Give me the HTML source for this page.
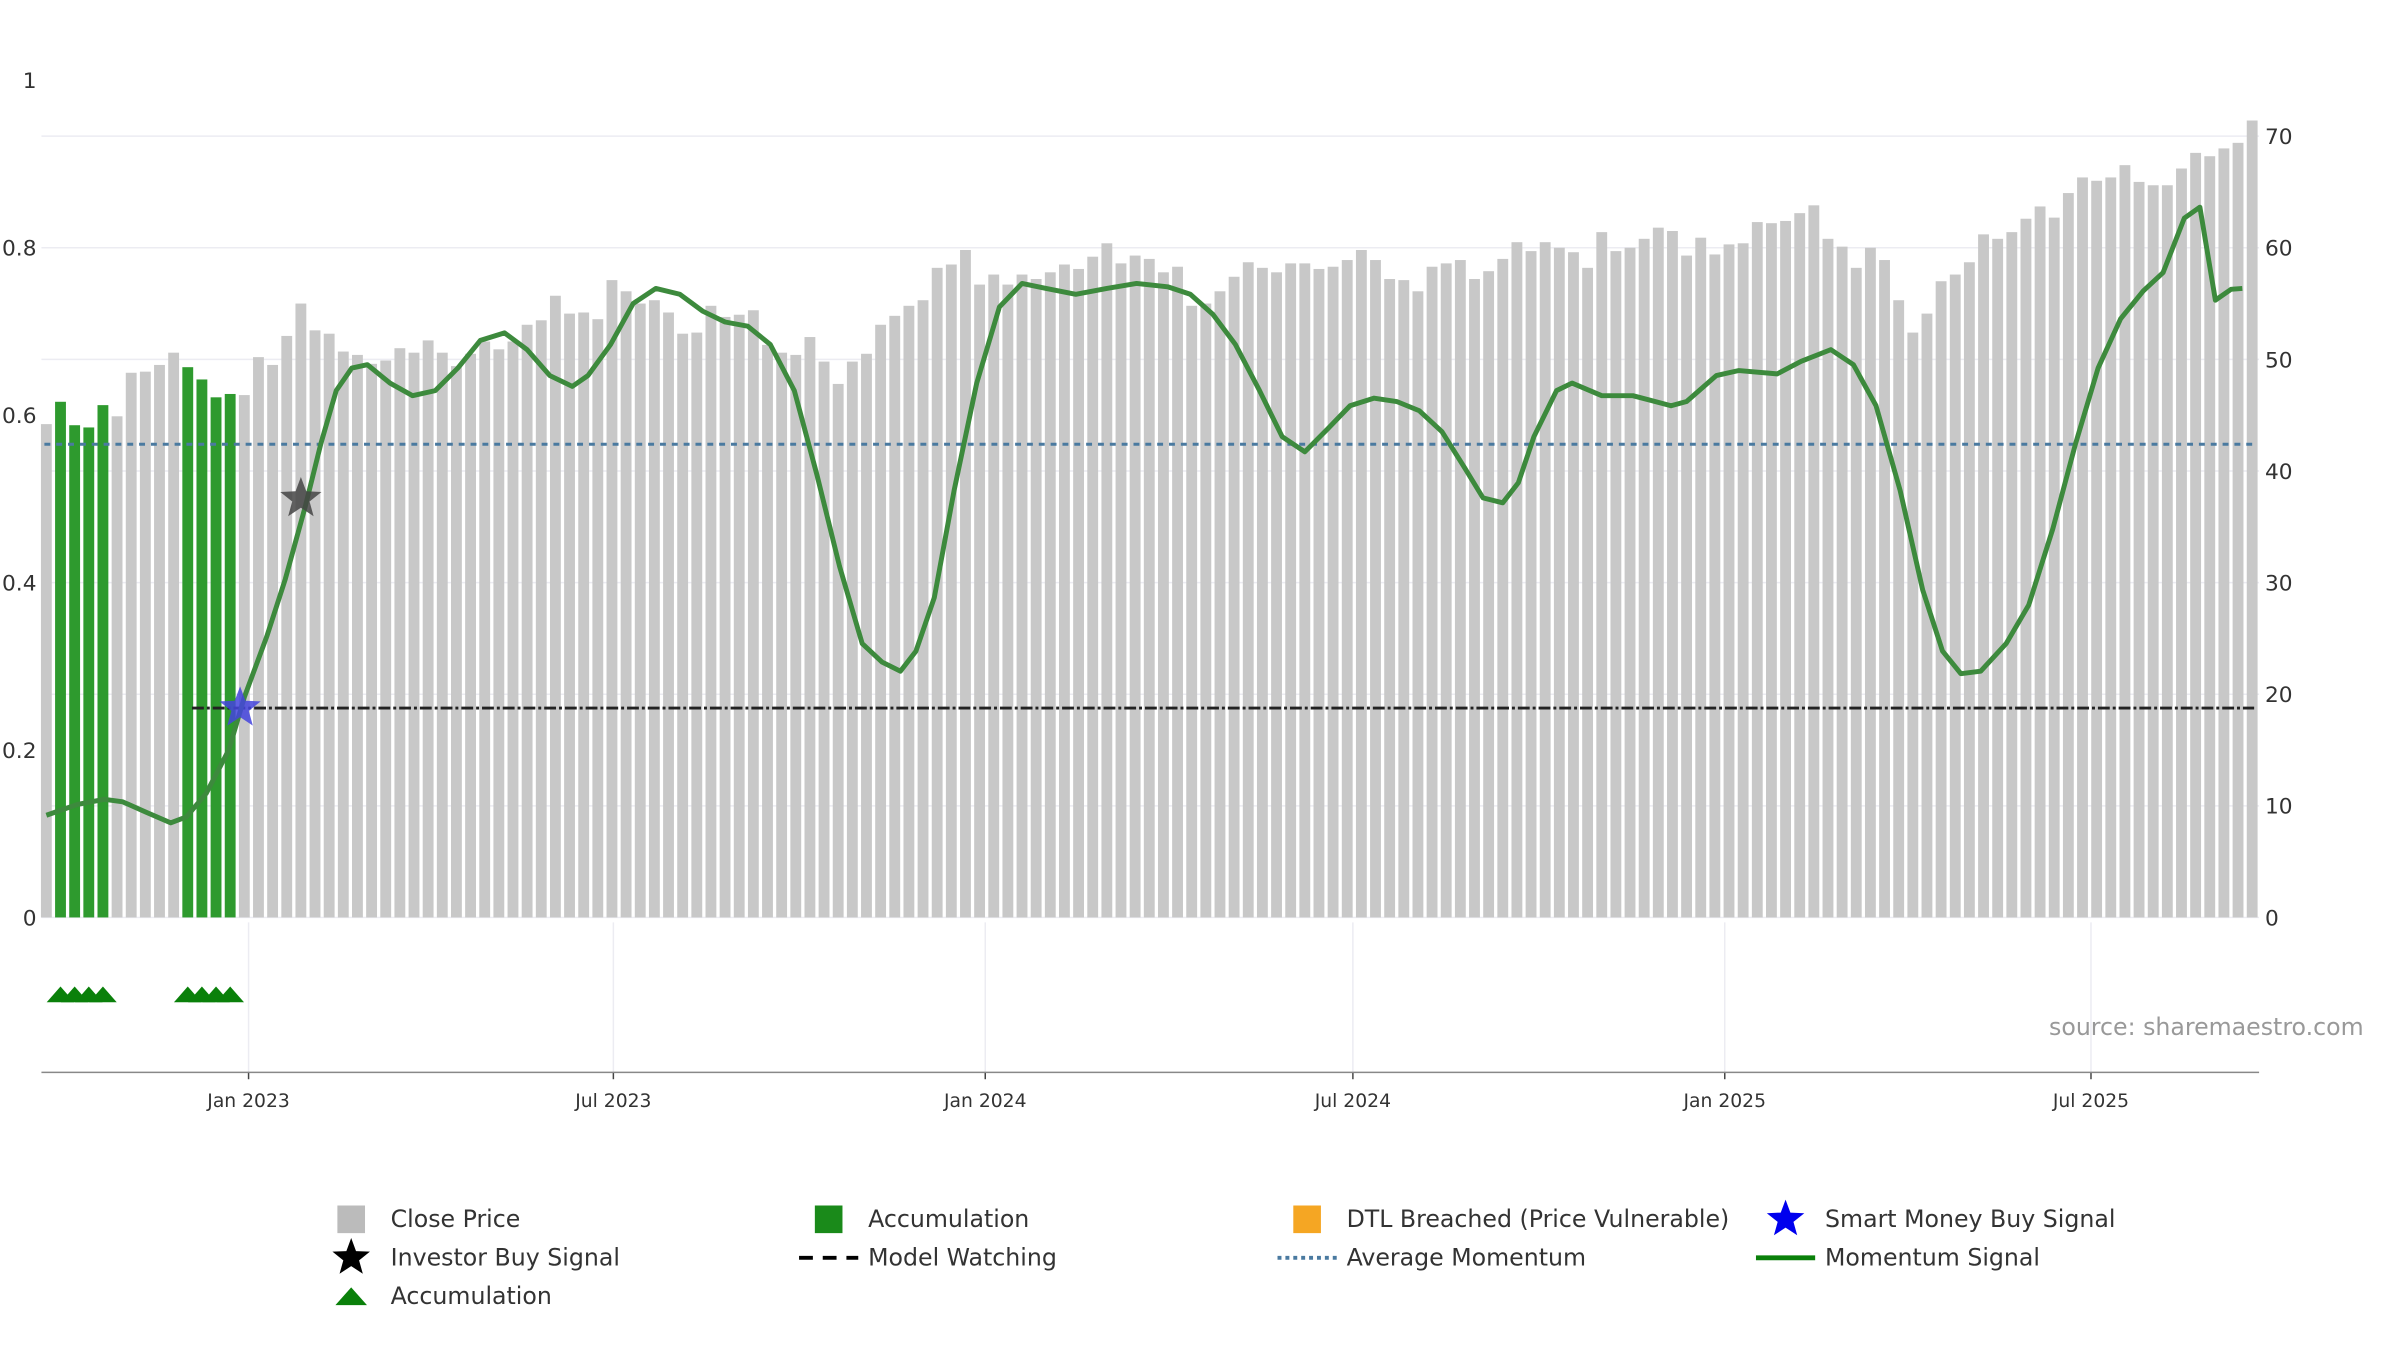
<!DOCTYPE html>
<html><head><meta charset="utf-8">
<style>
html,body{margin:0;padding:0;background:#fff;}
svg{display:block;font-family:"DejaVu Sans","Liberation Sans",sans-serif;}
</style></head>
<body>
<svg id="chart" width="2400" height="1350" viewBox="0 0 2400 1350" xmlns="http://www.w3.org/2000/svg">
<g transform="scale(0.9865)">
<g id="grid"></g>
<g id="bars"></g>
<g id="lines"></g>
<g id="axes"></g>
<text x="2396" y="1049" text-anchor="end" font-size="24" fill="#999">source: sharemaestro.com</text>
<g id="legend"></g>
</g>
</svg>
<script>
const prices = [44.2,46.2,44.1,43.9,45.9,44.9,48.8,48.9,49.5,50.6,49.3,48.2,46.6,46.9,46.8,50.2,49.5,52.1,55.0,52.6,52.3,50.7,50.4,49.6,49.9,51.0,50.6,51.7,50.6,49.4,50.5,51.6,
50.9,51.6,53.1,53.5,55.7,54.1,54.2,53.6,57.1,56.1,55.0,55.3,54.2,52.3,52.4,54.8,53.8,54.0,54.4,51.3,50.6,50.4,52.0,49.8,47.8,49.8,50.5,53.1,53.9,54.8,55.3,58.2,58.5,59.8,56.7,57.6,56.7,57.6,57.2,57.8,58.5,58.1,59.2,60.4,58.6,59.3,59.0,57.8,58.3,54.8,55.0,56.1,57.4,58.7,58.2,57.8,58.6,58.6,58.1,58.3,58.9,59.8,58.9,57.2,57.1,56.1,58.3,58.6,58.9,57.2,57.9,59.0,60.5,59.7,60.5,60.0,59.6,58.2,61.4,59.7,60.0,60.8,61.8,61.5,59.3,60.9,59.4,60.3,60.4,62.3,62.2,62.4,63.1,63.8,60.8,60.1,58.2,60.0,58.9,55.3,52.4,54.1,57.0,57.6,58.7,61.2,60.8,61.4,62.6,63.7,62.7,64.9,66.3,66.0,66.3,67.4,65.9,65.6,65.6,67.1,68.5,68.2,68.9,69.4,71.4];
const accumIdx = [1,2,3,4,10,11,12,13];
const momIdx = [0,2.2,4.1,5.4,7,8.8,9.9,11.3,12.9,14,15.6,16.9,18.3,19.4,20.5,21.6,22.7,24.3,25.9,27.5,29.1,30.7,32.4,34,35.6,37.2,38.3,39.9,41.5,43.1,44.8,46.4,48,49.6,51.2,52.9,54.5,56.1,57.7,59.1,60.4,61.5,62.8,64.2,65.8,67.4,69,70.7,72.8,75,77.1,79.3,80.9,82.5,84.1,85.8,87.4,89,90.6,92.2,93.9,95.5,97.1,98.7,100.3,101.6,103,104.1,105.2,106.8,107.9,110,112.2,114.9,116,118.1,119.7,122.4,124.1,126.2,127.8,129.4,131.1,132.7,134.1,135.4,136.8,138.6,140.2,141.9,143.5,145.1,146.7,148.3,149.7,151.2,152.3,153.4,154.5,155.3];
const momVal = [0.122,0.135,0.141,0.138,0.126,0.113,0.12,0.148,0.2,0.263,0.336,0.404,0.49,0.565,0.629,0.656,0.66,0.638,0.623,0.629,0.656,0.689,0.698,0.678,0.647,0.634,0.647,0.684,0.733,0.751,0.744,0.724,0.711,0.706,0.684,0.629,0.528,0.419,0.327,0.305,0.294,0.318,0.382,0.51,0.638,0.729,0.757,0.751,0.744,0.751,0.757,0.753,0.744,0.72,0.684,0.629,0.574,0.556,0.583,0.611,0.62,0.616,0.605,0.58,0.537,0.501,0.495,0.519,0.574,0.629,0.638,0.623,0.623,0.611,0.616,0.647,0.653,0.649,0.664,0.678,0.66,0.611,0.51,0.391,0.318,0.291,0.294,0.327,0.373,0.464,0.565,0.656,0.715,0.748,0.77,0.835,0.848,0.737,0.75,0.751];
const avgMomentum = 0.565;
const modelWatching = 0.25;
const modelStartIdx = 10.3;
const investorStar = [18.0, 0.50];
const smartStar = [13.7, 0.25];
const leftTicks = [0,0.2,0.4,0.6,0.8,1];
const leftTickLabels = ["0","0.2","0.4","0.6","0.8","1"];
const rightTicks = [0,10,20,30,40,50,60,70];
const dateTickIdx = [14.3,40.1,66.4,92.4,118.7,144.6];
const dateTickLabels = ["Jan 2023","Jul 2023","Jan 2024","Jul 2024","Jan 2025","Jul 2025"];

const NS="http://www.w3.org/2000/svg";
const x = i => 47 + i*(2283-47)/156;
const yL = v => 930 - v*849;
const yR = v => 930 - v*(930-138)/70;
function mk(tag, attrs, parent, text){const e=document.createElementNS(NS,tag);for(const k in attrs)e.setAttribute(k,attrs[k]);if(text!==undefined)e.textContent=text;parent.appendChild(e);return e;}
const grid=document.getElementById('grid'),bars=document.getElementById('bars'),lines=document.getElementById('lines'),axes=document.getElementById('axes'),legend=document.getElementById('legend');

rightTicks.forEach(t=>{const g=mk('line',{x1:42,x2:2290,y1:yR(t),y2:yR(t),stroke:'#ececf2','stroke-width':1.5},grid);


const l=mk('text',{x:2296,y:yR(t)+8,'font-size':22,fill:'#333'},axes,String(t));

});
leftTicks.forEach((t,k)=>{const l=mk('text',{x:37,y:yL(t)+8,'text-anchor':'end','font-size':22,fill:'#333'},axes,leftTickLabels[k]);

});
dateTickIdx.forEach((d,k)=>{const g=mk('line',{x1:x(d),x2:x(d),y1:935,y2:1087,stroke:'#ececf2','stroke-width':1.5},grid);


mk('line',{x1:x(d),x2:x(d),y1:1087,y2:1094,stroke:'#444','stroke-width':1.5},axes);
const l=mk('text',{x:x(d),y:1122,'text-anchor':'middle','font-size':19,fill:'#333'},axes,dateTickLabels[k]);

});
const ax=mk('line',{x1:42,x2:2290,y1:1087,y2:1087,stroke:'#888','stroke-width':1.5},axes);



prices.forEach((p,i)=>{const acc=accumIdx.includes(i);
const b=mk('rect',{x:x(i)-5.5,y:yR(p),width:11,height:930-yR(p),fill:acc?'#2e9a2e':'#c8c8c8'},bars);

});
accumIdx.forEach(i=>{const t=mk('polygon',{points:`${x(i)-14},1016 ${x(i)},1000 ${x(i)+14},1016`,fill:'#0a800a'},bars);

});

const am=mk('line',{x1:45,x2:2285,y1:yL(avgMomentum),y2:yL(avgMomentum),stroke:'#4a7aa0','stroke-width':3,'stroke-dasharray':'6,6'},lines);


const mw=mk('line',{x1:x(modelStartIdx),x2:2285,y1:yL(modelWatching),y2:yL(modelWatching),stroke:'#222','stroke-width':3,'stroke-dasharray':'12,3,3,3'},lines);


const pts=momIdx.map((d,k)=>x(d).toFixed(1)+','+yL(momVal[k]).toFixed(1)).join(' ');
const ml=mk('polyline',{points:pts,fill:'none',stroke:'#3d8a3d','stroke-width':5,'stroke-linejoin':'round'},lines);


function star(cx,cy,r,fill){let p=[];for(let k=0;k<10;k++){const a=-Math.PI/2+k*Math.PI/5;const rr=k%2?r*0.42:r;p.push((cx+rr*Math.cos(a)).toFixed(1)+','+(cy+rr*Math.sin(a)).toFixed(1));}return p.join(' ');}
const s1=mk('polygon',{points:star(x(investorStar[0]),yL(investorStar[1]),22),fill:'#444',opacity:0.85},lines);


const s2=mk('polygon',{points:star(x(smartStar[0]),yL(smartStar[1]),22),fill:'#4444dd',opacity:0.85},lines);



const legItems=[
 [356,1236,'rect','#bbb','Close Price','legend-close-price'],
 [840,1236,'rect','#1a8a1a','Accumulation','legend-accumulation-bar'],
 [1325,1236,'rect','#f5a623','DTL Breached (Price Vulnerable)','legend-dtl-breached'],
 [1810,1236,'star','#0000ee','Smart Money Buy Signal','legend-smart-money'],
 [356,1275,'star','#000','Investor Buy Signal','legend-investor-buy'],
 [840,1275,'dash','#000','Model Watching','legend-model-watching'],
 [1325,1275,'dot','#4a7aa0','Average Momentum','legend-average-momentum'],
 [1810,1275,'line','#0a800a','Momentum Signal','legend-momentum-signal'],
 [356,1314,'tri','#0a800a','Accumulation','legend-accumulation-triangle']];
legItems.forEach(it=>{const [mx,my,type,col,label,name]=it;
const g=mk('g',{},legend);


if(type==='rect')mk('rect',{x:mx-14,y:my-14,width:28,height:28,fill:col},g);
if(type==='star')mk('polygon',{points:star(mx,my,20),fill:col},g);
if(type==='dash')mk('line',{x1:mx-30,x2:mx+30,y1:my,y2:my,stroke:col,'stroke-width':4,'stroke-dasharray':'14,10'},g);
if(type==='dot')mk('line',{x1:mx-30,x2:mx+30,y1:my,y2:my,stroke:col,'stroke-width':4,'stroke-dasharray':'4,4'},g);
if(type==='line')mk('line',{x1:mx-30,x2:mx+30,y1:my,y2:my,stroke:col,'stroke-width':5},g);
if(type==='tri')mk('polygon',{points:`${mx-16},${my+9} ${mx},${my-9} ${mx+16},${my+9}`,fill:col},g);
mk('text',{x:mx+40,y:my+8,'font-size':24,fill:'#333'},g,label);});
</script>
</body></html>
